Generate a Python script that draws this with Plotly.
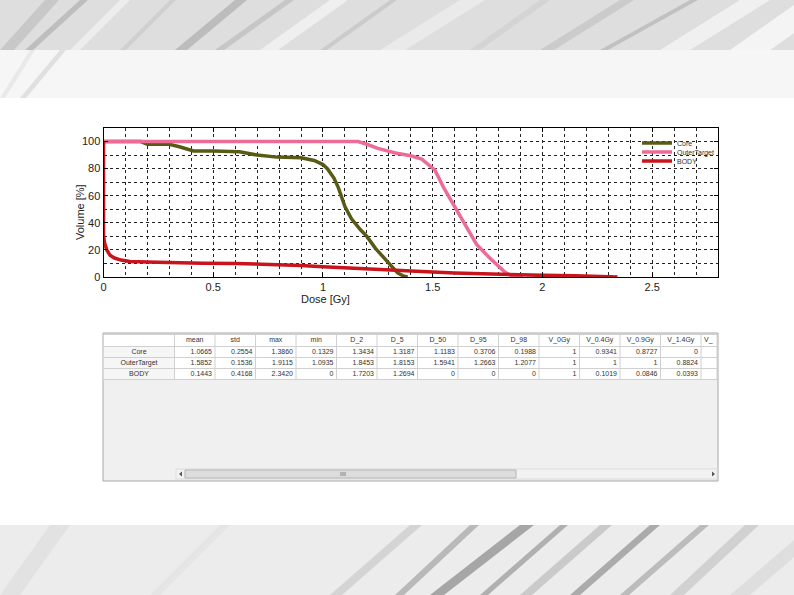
import plotly.graph_objects as go

W, H = 794, 595

# ---------------- DVH data ----------------
core_dose = [0, 0.17, 0.2, 0.3, 0.35, 0.41, 0.5, 0.62, 0.7, 0.79, 0.9, 0.96, 1.0, 1.02, 1.05, 1.07,
             1.1, 1.13, 1.17, 1.2, 1.24, 1.28, 1.31, 1.34, 1.37, 1.386]
core_vol = [100, 100, 98, 98, 96, 93, 93, 92.5, 90, 88.5, 88, 86, 83, 80, 73, 66,
            52, 43, 35, 30, 21, 13.5, 8, 3, 0.5, 0]

outer_dose = [0, 1.09, 1.16, 1.2, 1.25, 1.33, 1.4, 1.45, 1.48, 1.51, 1.55, 1.6, 1.65, 1.7,
              1.76, 1.8, 1.83, 1.86, 1.9115]
outer_vol = [100, 100, 100, 98, 95, 91.5, 89.5, 87, 83, 79, 66, 52, 37, 24,
             14, 8, 3.5, 0.8, 0]

body_dose = [0, 0, 0.005, 0.015, 0.03, 0.05, 0.08, 0.12, 0.2, 0.3, 0.45, 0.6, 0.75, 0.9, 1.0,
             1.15, 1.3, 1.45, 1.6, 1.75, 1.85, 2.0, 2.15, 2.3, 2.342]
body_vol = [100, 31, 25, 20, 16, 14, 12.5, 11.5, 11, 10.5, 10.2, 10, 9.5, 8.5, 7.5,
            6.2, 5, 4, 3, 2.2, 1.7, 1.2, 0.9, 0.5, 0]

series_names = ["Core", "OuterTarget", "BODY"]
series_colors = ["#5a5a17", "#ec6b97", "#c8141c"]

# ---------------- Table data ----------------
table_cols = ["mean", "std", "max", "min", "D_2", "D_5", "D_50", "D_95", "D_98",
              "V_0Gy", "V_0.4Gy", "V_0.9Gy", "V_1.4Gy", "V_"]
row_names = ["Core", "OuterTarget", "BODY"]
mean_vals = ["1.0665", "1.5852", "0.1443"]
std_vals = ["0.2554", "0.1536", "0.4168"]
max_vals = ["1.3860", "1.9115", "2.3420"]
min_vals = ["0.1329", "1.0935", "0"]
d2_vals = ["1.3434", "1.8453", "1.7203"]
d5_vals = ["1.3187", "1.8153", "1.2694"]
d50_vals = ["1.1183", "1.5941", "0"]
d95_vals = ["0.3706", "1.2663", "0"]
d98_vals = ["0.1988", "1.2077", "0"]
v0_vals = ["1", "1", "1"]
v04_vals = ["0.9341", "1", "0.1019"]
v09_vals = ["0.8727", "1", "0.0846"]
v14_vals = ["0", "0.8824", "0.0393"]
vlast_vals = ["", "", ""]
value_cols = [mean_vals, std_vals, max_vals, min_vals, d2_vals, d5_vals, d50_vals,
              d95_vals, d98_vals, v0_vals, v04_vals, v09_vals, v14_vals, vlast_vals]


def px(x):
    return x / W


def py(y):
    return 1 - y / H


FONT = "Liberation Sans, Arial"
fig = go.Figure()

legend_ids = ["legend", "legend2", "legend3"]
for name, col, xs, ys, lg in zip(series_names, series_colors,
                                 [core_dose, outer_dose, body_dose],
                                 [core_vol, outer_vol, body_vol], legend_ids):
    fig.add_trace(go.Scatter(x=xs, y=ys, mode="lines", name=name, legend=lg,
                             line=dict(color=col, width=3.5), showlegend=True))

# ---------------- table geometry (table-local pixel units) ----------------
TX0, TX1, TY0, TY1 = 103, 718, 333, 481
rh_w = 71.0          # row-header column width
col_w = 40.5         # data column width
last_w = 16.0        # partially visible last column
hdr_h = 12.0
row_h = 11.0
top_pad = 1.5
lefts = [rh_w + col_w * k for k in range(len(table_cols))]
widths = [col_w] * (len(table_cols) - 1) + [last_w]
cells_right = lefts[-1] + last_w
rows_top = [top_pad + hdr_h + row_h * i for i in range(len(row_names))]
rows_bottom = rows_top[-1] + row_h

TXT = dict(family=FONT, size=7, color="#333333")
# header text
hx, hy, hpos = [], [], []
for c, l, w in zip(table_cols, lefts, widths):
    if c == table_cols[-1]:
        hx.append(l + 3)
        hpos.append("middle right")
    else:
        hx.append(l + w / 2)
        hpos.append("middle center")
    hy.append(top_pad + hdr_h / 2)
fig.add_trace(go.Scatter(x=hx, y=hy, text=table_cols, mode="text", textposition=hpos,
                         textfont=TXT, xaxis="x2", yaxis="y2", showlegend=False, hoverinfo="skip"))
# row-header text
fig.add_trace(go.Scatter(x=[rh_w / 2] * len(row_names), y=[t + row_h / 2 for t in rows_top],
                         text=row_names, mode="text", textposition="middle center",
                         textfont=TXT, xaxis="x2", yaxis="y2", showlegend=False, hoverinfo="skip"))
# values (right aligned)
vx, vy, vt = [], [], []
for vals, l, w in zip(value_cols, lefts, widths):
    for v, t in zip(vals, rows_top):
        vx.append(l + w - 3)
        vy.append(t + row_h / 2)
        vt.append(v)
fig.add_trace(go.Scatter(x=vx, y=vy, text=vt, mode="text", textposition="middle left",
                         textfont=TXT, xaxis="x2", yaxis="y2", showlegend=False, hoverinfo="skip"))

shapes = []
# --- decorative slide background (feather texture approximation) ---
shapes.append(dict(type="rect", xref="paper", yref="paper", x0=0, x1=1, y0=py(50), y1=1,
                   fillcolor="#dedede", line_width=0, layer="below"))
shapes.append(dict(type="rect", xref="paper", yref="paper", x0=0, x1=1, y0=py(98), y1=py(50),
                   fillcolor="#f6f6f6", line_width=0, layer="below"))
shapes.append(dict(type="rect", xref="paper", yref="paper", x0=0, x1=1, y0=0, y1=py(525),
                   fillcolor="#ececec", line_width=0, layer="below"))
top_streaks = [(0, 50, 45, 0, 14, "#c4c4c4"), (25, 50, 80, 0, 8, "#b8b8b8"), (70, 50, 120, 0, 10, "#f0f0f0"),
               (120, 50, 170, 0, 6, "#cccccc"), (175, 50, 235, 0, 12, "#b6b6b6"), (215, 50, 285, 0, 9, "#c2c2c2"),
               (260, 50, 330, 0, 18, "#f2f2f2"), (320, 50, 390, 0, 7, "#c8c8c8"), (380, 50, 460, 0, 25, "#ececec"),
               (470, 50, 540, 0, 10, "#d2d2d2"), (540, 50, 620, 0, 14, "#c8c8c8"), (600, 50, 690, 0, 8, "#bcbcbc"),
               (660, 50, 740, 0, 30, "#f3f3f3"), (730, 50, 794, 5, 40, "#f8f8f8"), (20, 98, 60, 50, 6, "#dcdcdc"),
               (0, 98, 30, 50, 5, "#e6e6e6")]
for x0, y0, x1, y1, wd, c in top_streaks:
    shapes.append(dict(type="path", xref="paper", yref="paper",
                       path=f"M {px(x0)},{py(y0)} L {px(x0 + wd)},{py(y0)} L {px(x1 + wd)},{py(y1)} L {px(x1)},{py(y1)} Z",
                       fillcolor=c, line_width=0, opacity=0.85, layer="below"))
bot_streaks = [(0, 595, 50, 525, 20, "#e0e0e0"), (150, 595, 220, 525, 10, "#e4e4e4"), (330, 595, 410, 525, 12, "#d0d0d0"),
               (395, 595, 470, 525, 9, "#b0b0b0"), (430, 595, 520, 525, 14, "#9a9a9a"), (480, 595, 560, 525, 8, "#a6a6a6"),
               (520, 595, 600, 525, 12, "#c4c4c4"), (570, 595, 650, 525, 10, "#a0a0a0"), (620, 595, 700, 525, 9, "#b4b4b4"),
               (670, 595, 745, 525, 14, "#cccccc"), (730, 595, 794, 540, 20, "#dcdcdc")]
for x0, y0, x1, y1, wd, c in bot_streaks:
    shapes.append(dict(type="path", xref="paper", yref="paper",
                       path=f"M {px(x0)},{py(y0)} L {px(x0 + wd)},{py(y0)} L {px(x1 + wd)},{py(y1)} L {px(x1)},{py(y1)} Z",
                       fillcolor=c, line_width=0, opacity=0.85, layer="below"))
shapes.append(dict(type="rect", xref="paper", yref="paper", x0=0, x1=1, y0=py(525), y1=py(98),
                   fillcolor="#ffffff", line_width=0, layer="below"))

# --- table frame and cells ---
shapes.append(dict(type="rect", xref="paper", yref="paper", x0=px(TX0), x1=px(TX1), y0=py(TY1), y1=py(TY0),
                   fillcolor="#f0f0f0", line=dict(color="#a8a8a8", width=1), layer="below"))
shapes.append(dict(type="rect", xref="x2", yref="y2", x0=0, x1=cells_right, y0=top_pad, y1=rows_bottom,
                   fillcolor="#ffffff", line_width=0, layer="below"))
shapes.append(dict(type="rect", xref="x2", yref="y2", x0=0, x1=rh_w, y0=top_pad + hdr_h, y1=rows_bottom,
                   fillcolor="#f6f6f6", line_width=0, layer="below"))
GRID = "#d0d0d0"
for b in [0] + [rh_w] + [l + w for l, w in zip(lefts, widths)]:
    shapes.append(dict(type="line", xref="x2", yref="y2", x0=b, x1=b, y0=top_pad, y1=rows_bottom,
                       line=dict(color=GRID, width=1), layer="below"))
for yb in [top_pad, top_pad + hdr_h] + [t + row_h for t in rows_top]:
    shapes.append(dict(type="line", xref="x2", yref="y2", x0=0, x1=cells_right, y0=yb, y1=yb,
                       line=dict(color=GRID, width=1), layer="below"))
# scrollbar
shapes.append(dict(type="rect", xref="paper", yref="paper", x0=px(176), x1=px(717), y0=py(479), y1=py(469),
                   fillcolor="#f2f2f2", line=dict(color="#dcdcdc", width=1), layer="below"))
shapes.append(dict(type="rect", xref="paper", yref="paper", x0=px(185), x1=px(516), y0=py(478), y1=py(470),
                   fillcolor="#dddddd", line=dict(color="#b4b4b4", width=1), layer="below"))
shapes.append(dict(type="path", xref="paper", yref="paper",
                   path=f"M {px(179)},{py(474)} L {px(182)},{py(471.5)} L {px(182)},{py(476.5)} Z",
                   fillcolor="#555555", line_width=0, layer="below"))
shapes.append(dict(type="path", xref="paper", yref="paper",
                   path=f"M {px(715)},{py(474)} L {px(712)},{py(471.5)} L {px(712)},{py(476.5)} Z",
                   fillcolor="#555555", line_width=0, layer="below"))
for gx in (341, 343, 345):
    shapes.append(dict(type="line", xref="paper", yref="paper", x0=px(gx), x1=px(gx), y0=py(472), y1=py(476),
                       line=dict(color="#888888", width=1), layer="below"))

annotations = [
    dict(text="Dose [Gy]", x=px(325), y=py(299), xref="paper", yref="paper", showarrow=False,
         font=dict(family=FONT, size=11, color="#222222")),
    dict(text="Volume [%]", x=px(72), y=py(212), xref="paper", yref="paper", showarrow=False, textangle=-90,
         font=dict(family=FONT, size=11, color="#222222")),
]

legend_common = dict(xanchor="left", yanchor="middle", bgcolor="rgba(0,0,0,0)", borderwidth=0,
                     font=dict(family=FONT, size=7, color="#333333"), itemwidth=30)
grid_style = dict(showgrid=True, gridcolor="#222222", gridwidth=1, griddash="dot")
fig.update_layout(
    width=W, height=H,
    margin=dict(l=0, r=0, t=0, b=0),
    paper_bgcolor="#ffffff",
    plot_bgcolor="#ffffff",
    showlegend=True,
    legend=dict(x=px(637), y=py(143), **legend_common),
    legend2=dict(x=px(637), y=py(152), **legend_common),
    legend3=dict(x=px(637), y=py(161), **legend_common),
    xaxis=dict(domain=[px(103.5), px(718)], range=[0, 2.8], tickvals=[0, 0.5, 1, 1.5, 2, 2.5],
               ticktext=["0", "0.5", "1", "1.5", "2", "2.5"],
               ticks="inside", ticklen=4, tickcolor="#000000",
               showline=True, linecolor="#000000", linewidth=1, mirror="ticks",
               zeroline=False, automargin=False,
               tickfont=dict(family=FONT, size=11, color="#222222"),
               minor=dict(dtick=0.1, tick0=0, **grid_style),
               **grid_style),
    yaxis=dict(domain=[py(277), py(128)], range=[0, 110], tickvals=[0, 20, 40, 60, 80, 100],
               ticks="inside", ticklen=4, tickcolor="#000000",
               showline=True, linecolor="#000000", linewidth=1, mirror="ticks",
               zeroline=False, automargin=False,
               tickfont=dict(family=FONT, size=11, color="#222222"),
               minor=dict(dtick=10, tick0=0, **grid_style),
               **grid_style),
    xaxis2=dict(domain=[px(TX0 + 0.5), px(TX1)], range=[0, TX1 - TX0 - 0.5], visible=False,
                fixedrange=True, anchor="y2"),
    yaxis2=dict(domain=[py(TY1), py(TY0)], range=[TY1 - TY0, 0], visible=False,
                fixedrange=True, anchor="x2"),
    shapes=shapes,
    annotations=annotations,
)

fig.write_html("out.html", config={"displayModeBar": False},
               post_script="document.body.style.margin='0px';document.body.style.overflow='hidden';")
